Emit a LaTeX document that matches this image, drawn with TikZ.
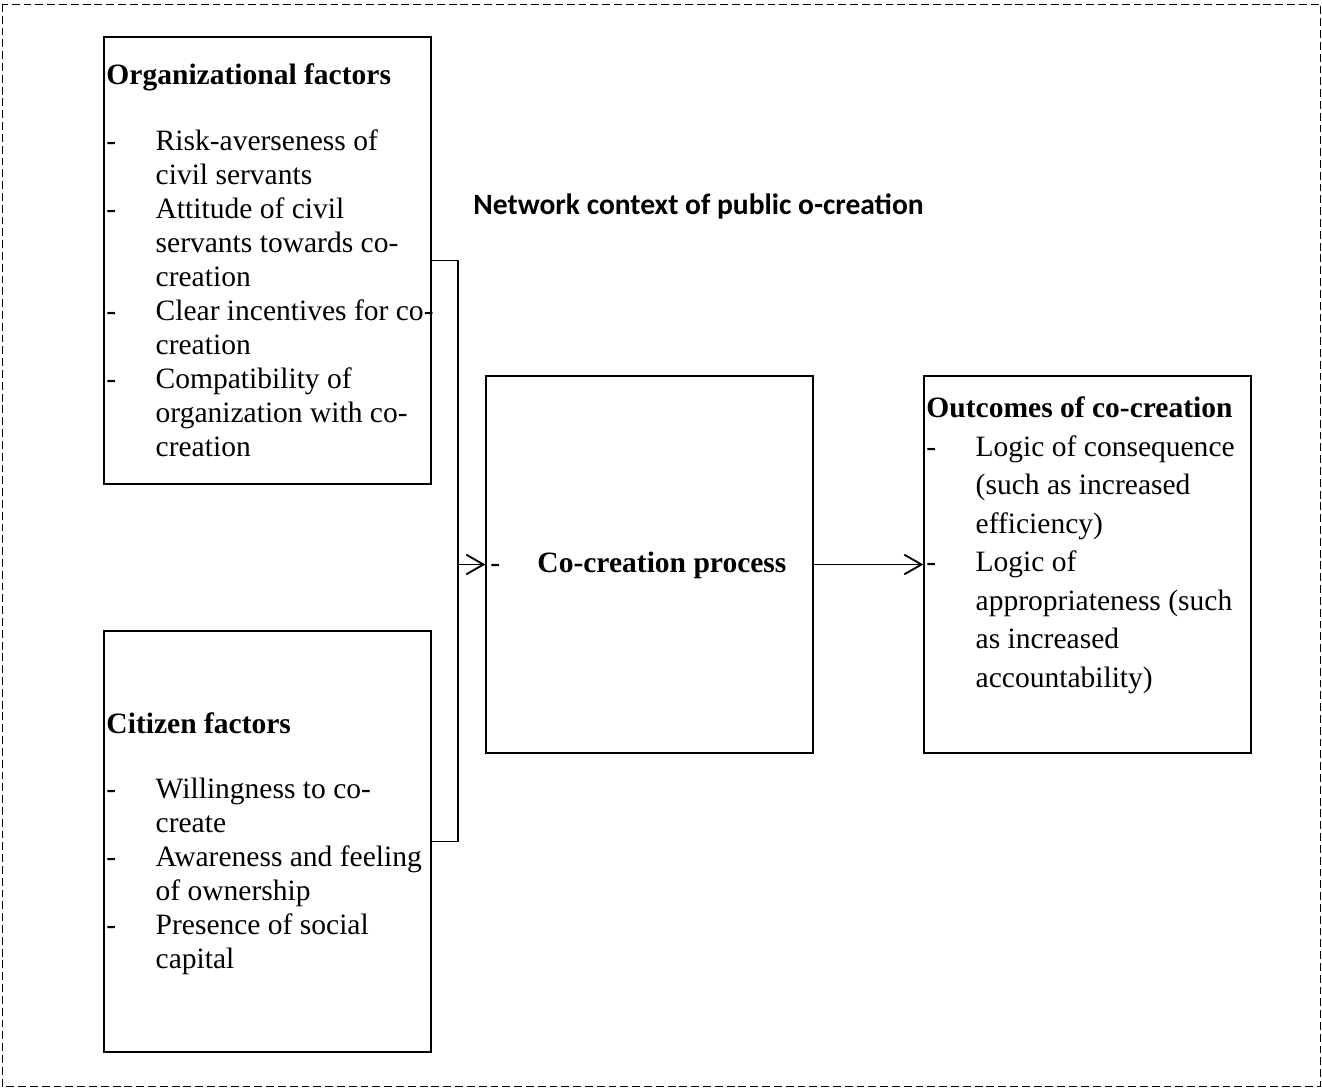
\documentclass[tikz,border=0pt]{standalone}
\usepackage{fontspec}
\setmainfont{Liberation Serif}
\newfontfamily\calibri{Carlito}
\usetikzlibrary{arrows.meta}
\newcommand{\dashitem}{\makebox[20pt][l]{-}}
\newcommand{\noitem}{\hspace*{20pt}}
\tikzset{
    factbox/.style = {draw, line width = 0.55pt, minimum width = 132.9pt, inner sep = 0pt},
    factext/.style = {anchor = base west, align = left, inner sep = 0pt, font = \fontsize{12}{13.8}\selectfont},
    link/.style = {line width = 0.75pt},
}
\begin{document}
        \begin{tikzpicture}[x = 0.4065pt, y = -0.4065pt, >={Straight Barb[length=7pt, width=8pt]}]
            \useasboundingbox (0,0) rectangle (1322,1090);
            \draw[line width = 0.4pt, dash pattern = on 3.2pt off 1.6pt] (2,4) rectangle (1320,1086);

            \node[factbox, minimum height = 181.7pt] (org) at (267.5,260.5) {};
            \node[factbox, minimum height = 171.1pt] (cit) at (267.5,841.5) {};
            \node[factbox, minimum height = 153.3pt] (proc) at (649.5,564.5) {};
            \node[factbox, minimum height = 153.3pt] (out) at (1087.5,564.5) {};

            \node[factext] (orghead) at (106,85) {\textbf{Organizational factors}};
            \node[factext] (orglist) at (106,456.5) {\dashitem Risk-averseness of\\ \noitem civil servants\\
                \dashitem Attitude of civil\\ \noitem servants towards co-\\ \noitem creation\\
                \dashitem Clear incentives for co-\\ \noitem creation\\
                \dashitem Compatibility of\\ \noitem organization with co-\\ \noitem creation};

            \node[factext] (cithead) at (106,734) {\textbf{Citizen factors}};
            \node[factext] (citlist) at (106,968.7) {\dashitem Willingness to co-\\ \noitem create\\
                \dashitem Awareness and feeling\\ \noitem of ownership\\
                \dashitem Presence of social\\ \noitem capital};

            \node[factext, font = \fontsize{12}{15.65}\selectfont] (outlist) at (926,687.5) {\textbf{Outcomes of co-creation}\\
                \dashitem Logic of consequence\\ \noitem (such as increased\\ \noitem efficiency)\\
                \dashitem Logic of\\ \noitem appropriateness (such\\ \noitem as increased\\ \noitem accountability)};

            \node[factext] (proctext) at (490,573) {\makebox[19.1pt][l]{-}\textbf{Co-creation process}};

            \node[anchor = base west, inner sep = 0pt, font = \calibri\bfseries\fontsize{12}{14}\selectfont] (title) at (473,215) {Network context of public o-creation};

            \coordinate (join) at (458,564.5);
            \draw[link] (org.east) -| (join);
            \draw[link] (cit.east) -| (join);
            \draw[link, ->] (join) -- (proc.west);
            \draw[link, ->] (proc.east) -- (out.west);
        \end{tikzpicture}
\end{document}
